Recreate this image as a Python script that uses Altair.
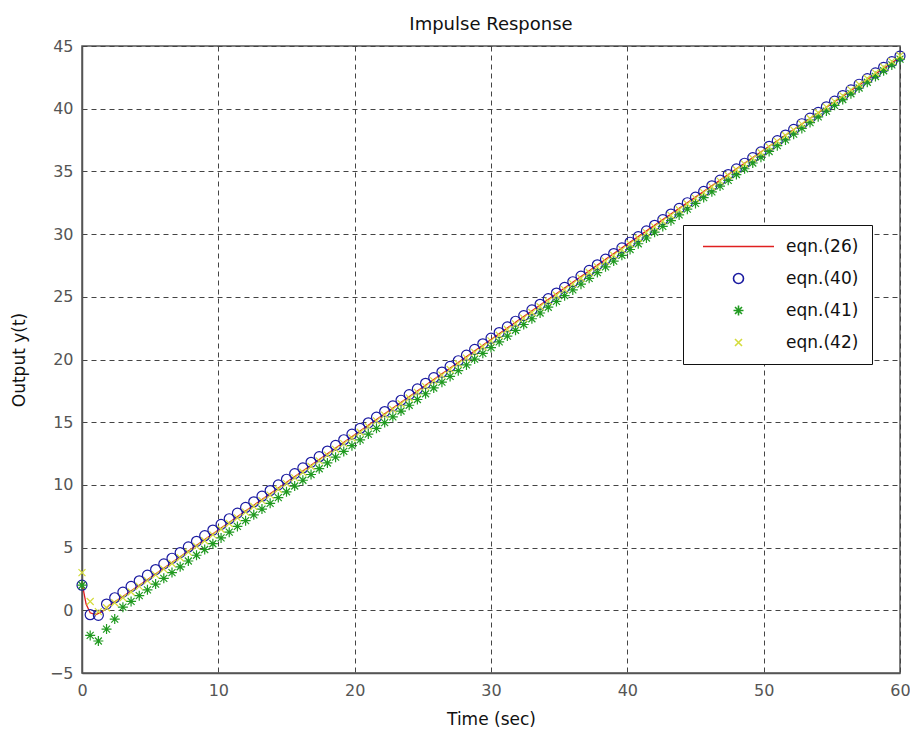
import altair as alt
import pandas as pd

# ---- data ----
time = [0, 0.6, 1.2, 1.8, 2.4, 3, 3.6, 4.2, 4.8, 5.4, 6, 6.6, 7.2, 7.8, 8.4, 9, 9.6, 10.2, 10.8, 11.4,
        12, 12.6, 13.2, 13.8, 14.4, 15, 15.6, 16.2, 16.8, 17.4, 18, 18.6, 19.2, 19.8, 20.4, 21, 21.6, 22.2,
        22.8, 23.4, 24, 24.6, 25.2, 25.8, 26.4, 27, 27.6, 28.2, 28.8, 29.4, 30, 30.6, 31.2, 31.8, 32.4, 33,
        33.6, 34.2, 34.8, 35.4, 36, 36.6, 37.2, 37.8, 38.4, 39, 39.6, 40.2, 40.8, 41.4, 42, 42.6, 43.2, 43.8,
        44.4, 45, 45.6, 46.2, 46.8, 47.4, 48, 48.6, 49.2, 49.8, 50.4, 51, 51.6, 52.2, 52.8, 53.4, 54, 54.6,
        55.2, 55.8, 56.4, 57, 57.6, 58.2, 58.8, 59.4, 60]

eqn40 = [2.0, -0.35, -0.4, 0.5, 1.0, 1.45, 1.9, 2.35, 2.8, 3.25, 3.7, 4.15, 4.6, 5.05, 5.5, 5.95, 6.4,
         6.85, 7.3, 7.75, 8.2, 8.65, 9.1, 9.55, 10.0, 10.45, 10.9, 11.35, 11.8, 12.25, 12.7, 13.15, 13.6,
         14.05, 14.5, 14.95, 15.4, 15.85, 16.3, 16.75, 17.2, 17.65, 18.1, 18.55, 19.0, 19.45, 19.9, 20.35,
         20.8, 21.25, 21.7, 22.15, 22.6, 23.05, 23.5, 23.95, 24.4, 24.85, 25.3, 25.75, 26.2, 26.65, 27.1,
         27.55, 28.0, 28.45, 28.9, 29.35, 29.8, 30.25, 30.7, 31.15, 31.6, 32.05, 32.5, 32.95, 33.4, 33.85,
         34.3, 34.75, 35.2, 35.65, 36.1, 36.55, 37.0, 37.45, 37.9, 38.35, 38.8, 39.25, 39.7, 40.15, 40.6,
         41.05, 41.5, 41.95, 42.4, 42.85, 43.3, 43.75, 44.2]

eqn41 = [2.0, -2.0, -2.45, -1.5, -0.7, 0.25, 0.71, 1.17, 1.63, 2.09, 2.55, 3.01, 3.47, 3.93, 4.39, 4.85,
         5.31, 5.77, 6.23, 6.69, 7.15, 7.61, 8.07, 8.53, 8.99, 9.45, 9.91, 10.37, 10.83, 11.29, 11.75, 12.21,
         12.67, 13.13, 13.59, 14.05, 14.51, 14.97, 15.43, 15.89, 16.35, 16.81, 17.27, 17.73, 18.19, 18.65,
         19.11, 19.57, 20.03, 20.49, 20.95, 21.41, 21.87, 22.33, 22.79, 23.25, 23.71, 24.17, 24.63, 25.09,
         25.55, 26.01, 26.47, 26.93, 27.39, 27.85, 28.31, 28.77, 29.23, 29.69, 30.15, 30.61, 31.07, 31.53,
         31.99, 32.45, 32.91, 33.37, 33.83, 34.29, 34.75, 35.21, 35.67, 36.13, 36.59, 37.05, 37.51, 37.97,
         38.43, 38.89, 39.35, 39.81, 40.27, 40.73, 41.19, 41.65, 42.11, 42.57, 43.03, 43.49, 43.95]

eqn42 = [3.0, 0.7, -0.1, 0.2, 0.6, 1.0, 1.46, 1.91, 2.37, 2.82, 3.28, 3.73, 4.19, 4.64, 5.10, 5.55, 6.01,
         6.46, 6.92, 7.37, 7.83, 8.28, 8.74, 9.19, 9.65, 10.10, 10.56, 11.01, 11.47, 11.92, 12.38, 12.83,
         13.29, 13.74, 14.20, 14.65, 15.11, 15.56, 16.02, 16.47, 16.93, 17.38, 17.84, 18.29, 18.75, 19.20,
         19.66, 20.11, 20.57, 21.02, 21.48, 21.93, 22.39, 22.84, 23.30, 23.75, 24.21, 24.66, 25.12, 25.57,
         26.03, 26.48, 26.94, 27.39, 27.85, 28.30, 28.76, 29.21, 29.67, 30.12, 30.58, 31.03, 31.49, 31.94,
         32.40, 32.85, 33.31, 33.76, 34.22, 34.67, 35.13, 35.58, 36.04, 36.49, 36.95, 37.40, 37.86, 38.31,
         38.77, 39.22, 39.68, 40.13, 40.59, 41.04, 41.50, 41.95, 42.41, 42.86, 43.32, 43.77, 44.23]

line_time = [0, 0.3, 0.6, 1.0, 1.5, 2.0, 3.0, 5.0, 10, 20, 30, 40, 50, 60]
eqn26 = [2.2, 0.5, -0.2, -0.35, -0.1, 0.4, 1.1, 2.6, 6.4, 14.0, 21.6, 29.2, 36.7, 44.1]

series = ["eqn.(26)", "eqn.(40)", "eqn.(41)", "eqn.(42)"]
colors = ["#e02020", "#1a1aa0", "#209a20", "#d4dc3c"]
shapes = ["M-7.1,0L7.1,0", "circle",
          "M-1,0L1,0M0,-1L0,1M-0.7,-0.7L0.7,0.7M-0.7,0.7L0.7,-0.7",
          "M-0.7,-0.7L0.7,0.7M-0.7,0.7L0.7,-0.7"]

rows = []
for name, vals in [("eqn.(40)", eqn40), ("eqn.(41)", eqn41), ("eqn.(42)", eqn42)]:
    for t, v in zip(time, vals):
        rows.append({"t": t, "y": v, "series": name})
pts = pd.DataFrame(rows)
ln = pd.DataFrame({"t": line_time, "y": eqn26})

xs = alt.Scale(domain=[0, 60], nice=False)
ys = alt.Scale(domain=[-5, 45], nice=False)

xaxis = alt.Axis(title="Time (sec)", values=[0, 10, 20, 30, 40, 50, 60], grid=True, labelFlush=False)
yaxis = alt.Axis(title="Output y(t)", values=[-5, 0, 5, 10, 15, 20, 25, 30, 35, 40, 45], grid=True,
                 labelFlush=False)

line = alt.Chart(ln).mark_line(color="#e02020", strokeWidth=1.3).encode(
    x=alt.X("t:Q", scale=xs, axis=xaxis),
    y=alt.Y("y:Q", scale=ys, axis=yaxis),
)

points = alt.Chart(pts).mark_point(filled=False, size=100, strokeWidth=1.2, opacity=1).encode(
    x=alt.X("t:Q", scale=xs),
    y=alt.Y("y:Q", scale=ys),
    color=alt.Color("series:N", scale=alt.Scale(domain=series, range=colors), title=None,
                    legend=alt.Legend(orient="none", legendX=601, legendY=179)),
    shape=alt.Shape("series:N", scale=alt.Scale(domain=series, range=shapes), title=None),
)

chart = alt.layer(line, points).properties(
    width=818, height=627,
    title=alt.TitleParams("Impulse Response", fontSize=18, font="DejaVu Sans", fontWeight="normal",
                          color="#111", offset=4),
    autosize=alt.AutoSizeParams(type="none"),
    padding={"left": 74, "top": 38, "right": 10, "bottom": 64},
).configure_view(
    stroke="#555", strokeWidth=1.5
).configure_axis(
    labelFont="DejaVu Sans", labelFontSize=16, labelColor="#555",
    titleFont="DejaVu Sans", titleFontSize=17, titleColor="#111", titleFontWeight="normal",
    gridColor="#444", gridDash=[5, 4], gridWidth=1, gridOpacity=1,
    domainColor="#555", domainWidth=1.5, ticks=False, labelPadding=9,
).configure_axisX(titlePadding=13).configure_axisY(titlePadding=21).configure_legend(
    labelFont="DejaVu Sans", labelFontSize=17, labelColor="#111",
    fillColor="white", strokeColor="#111", strokeWidth=1,
    padding=13, symbolOffset=34, labelOffset=39, rowPadding=14,
    symbolSize=100, symbolStrokeWidth=1.6, symbolType="circle",
)

chart.save("out.html", embed_options={"renderer": "svg", "actions": False})
